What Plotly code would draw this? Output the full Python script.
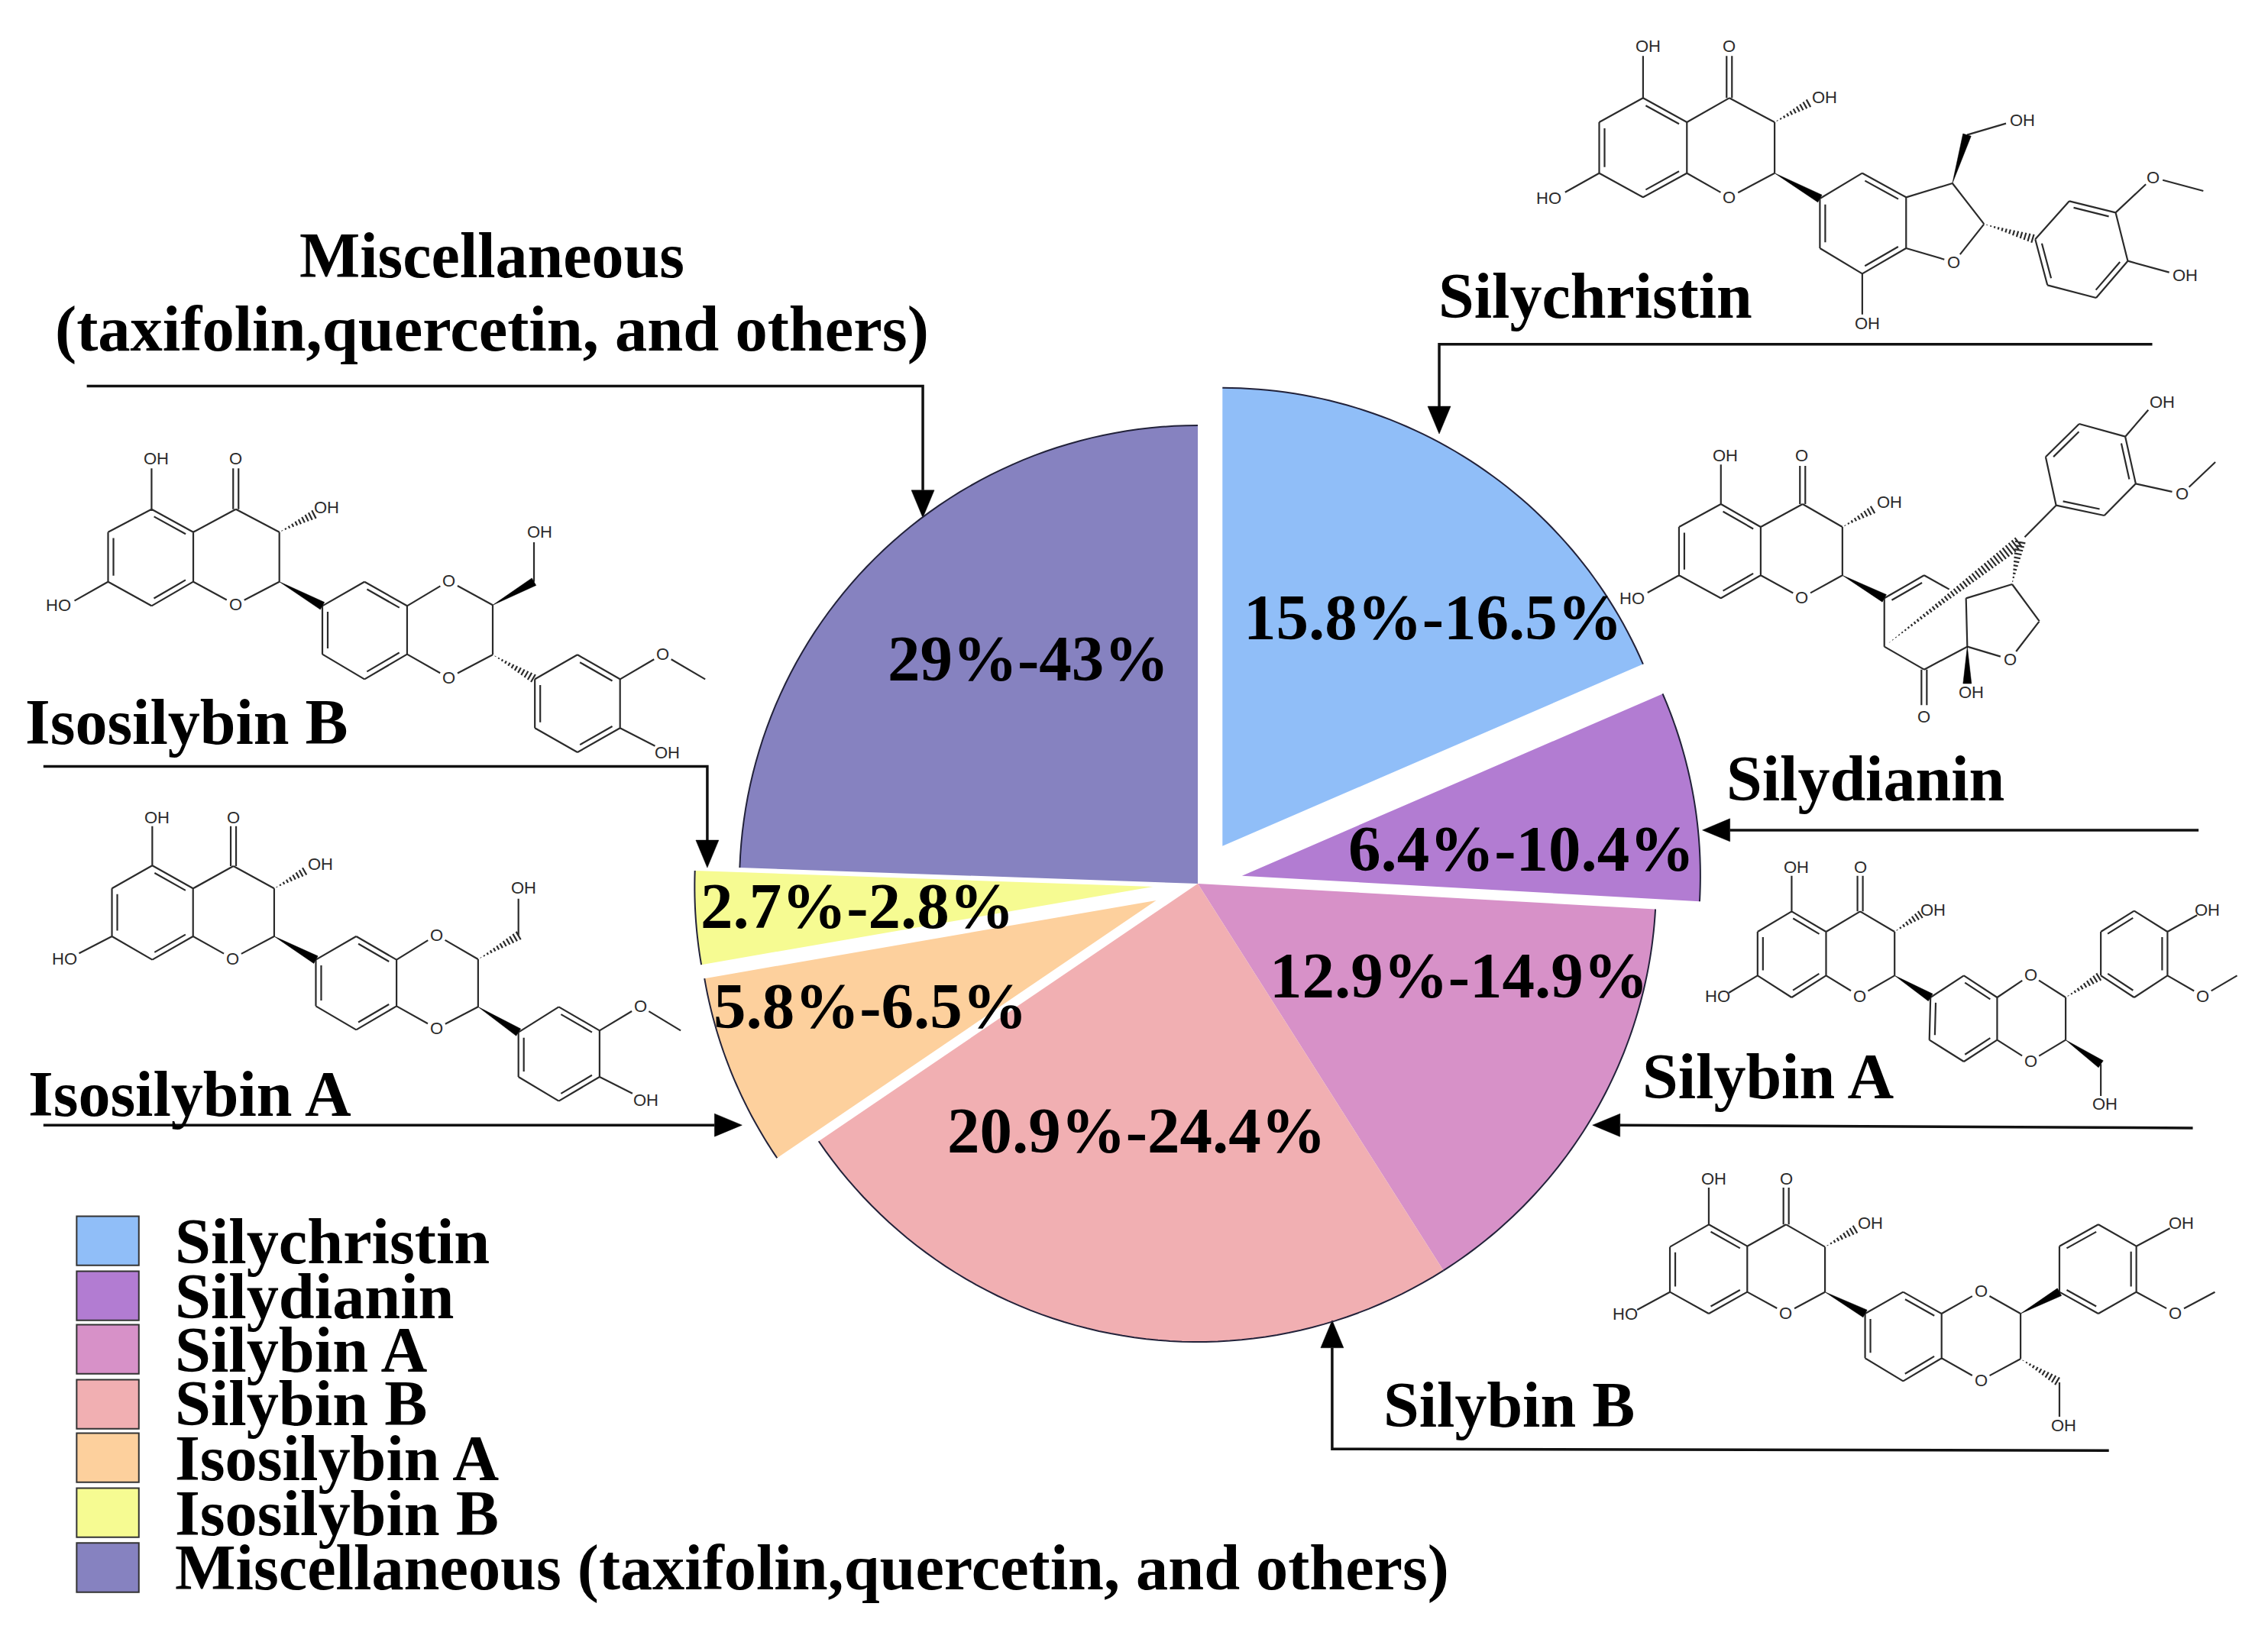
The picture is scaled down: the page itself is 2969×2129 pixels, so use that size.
import numpy as np
import plotly.graph_objects as go

W, H = 2969, 2129
categories = ["Silychristin", "Silydianin", "Silybin A", "Silybin B", "Isosilybin A", "Isosilybin B",
              "Miscellaneous (taxifolin,quercetin, and others)"]
slice_degrees = [66.6, 26.6, 54.4, 88.2, 24.4, 11.8, 88.0]
pulls = [0.098, 0.098, 0, 0, 0.098, 0.098, 0]
colors = ["#90BEF8", "#B27CD2", "#D791C8", "#F1AFB2", "#FDD09D", "#F6FB92", "#8682C0"]
range_labels = ["15.8%-16.5%", "6.4%-10.4%", "12.9%-14.9%", "20.9%-24.4%", "5.8%-6.5%", "2.7%-2.8%", "29%-43%"]

CX, CY, R = 1568, 1157, 600
FS = 84
SERIF = "Liberation Serif"
S = 2969 / 1568


def px(x):
    return x / W


def py(y):
    return 1 - y / H


def path(points, close=False):
    s = "M" + "L".join(f"{px(x):.5f},{py(y):.5f}" for x, y in points)
    return s + ("Z" if close else "")


shapes, annos = [], []


def add_text(text, x, y, size=FS, anchor="center", family=SERIF, bold=True, color="#000000"):
    annos.append(dict(text=text, x=px(x), y=py(y), xref="paper", yref="paper", showarrow=False,
                      xanchor=anchor, yanchor="middle", borderpad=0,
                      font=dict(family=family, size=size, color=color, weight="bold" if bold else "normal")))


# ---------- chemical structures ----------
BOND = "#2b2b2b"
LW = 2.2
LABELLED = {"Oc", "O1", "O2", "Om"}


def mol_draw(origin, scale, atoms, single, double, wedge, hashed, labels):
    ox, oy = origin
    sx, sy = scale
    P = {k: np.array([ox + v[0] / sx, oy + v[1] / sy]) for k, v in atoms.items()}
    lines, fills = [], []

    def trim(a, b):
        pa, pb = P[a].copy(), P[b].copy()
        u = (pb - pa) / np.linalg.norm(pb - pa)
        if a in LABELLED:
            pa = pa + u * 13
        if b in LABELLED:
            pb = pb - u * 13
        return pa, pb

    for a, b in single:
        lines.append(trim(a, b))
    for item in double:
        a, b, ring = item
        pa, pb = trim(a, b)
        u = (pb - pa) / np.linalg.norm(pb - pa)
        n = np.array([-u[1], u[0]])
        if ring is None:
            lines.append((pa + n * 3.5, pb + n * 3.5))
            lines.append((pa - n * 3.5, pb - n * 3.5))
        else:
            c = np.mean([P[k] for k in ring], axis=0)
            if np.dot(c - pa, n) < 0:
                n = -n
            lines.append((pa, pb))
            L = np.linalg.norm(pb - pa)
            lines.append((pa + n * 7 + u * L * 0.12, pb + n * 7 - u * L * 0.12))
    for a, b in wedge:
        pa, pb = P[a], P[b]
        u = (pb - pa) / np.linalg.norm(pb - pa)
        n = np.array([-u[1], u[0]])
        fills.append([pa, pb + n * 5.5, pb - n * 5.5])
    for a, b, *w in hashed:
        pa, pb = P[a], P[b]
        L = np.linalg.norm(pb - pa)
        u = (pb - pa) / L
        n = np.array([-u[1], u[0]])
        half = w[0] if w else 6
        for d in np.arange(4, L, 5.2):
            h = half * d / L
            lines.append((pa + u * d + n * h, pa + u * d - n * h))
    d = "".join(f"M{px(a[0]):.5f},{py(a[1]):.5f}L{px(b[0]):.5f},{py(b[1]):.5f}" for a, b in lines)
    shapes.append(dict(type="path", xref="paper", yref="paper", path=d, line=dict(color=BOND, width=LW)))
    for tri in fills:
        shapes.append(dict(type="path", xref="paper", yref="paper", path=path(tri, True),
                           fillcolor="#000000", line=dict(color="#000000", width=0.5)))
    for text, x, y in labels:
        add_text(text, ox + x / sx, oy + y / sy, size=22, family="Liberation Sans", bold=False, color="#2b2b2b")


A_RING = ["C5", "C4a", "C8a", "C8", "C7", "C6"]
R_RING = ["R1", "R2", "R3", "R4", "R5", "R6"]
P_RING = ["P1", "P2", "P3", "P4", "P5", "P6"]
CORE_SINGLE = [("C5", "C6"), ("C7", "C8"), ("C4a", "C8a"), ("C4a", "C4"), ("C4", "C3"), ("C3", "C2"),
               ("C2", "Oc"), ("Oc", "C8a"), ("C5", "e5"), ("C7", "e7")]
CORE_DOUBLE = [("C5", "C4a", A_RING), ("C6", "C7", A_RING), ("C8", "C8a", A_RING), ("C4", "eO", None)]
R_SINGLE = [("R1", "R2"), ("R3", "R4"), ("R5", "R6")]
R_DOUBLE = [("R2", "R3", R_RING), ("R4", "R5", R_RING), ("R1", "R6", R_RING)]
P_SINGLE = [("P1", "P2"), ("P3", "P4"), ("P5", "P6")]
P_DOUBLE = [("P2", "P3", P_RING), ("P4", "P5", P_RING), ("P6", "P1", P_RING)]
DIOX = [("R3", "O1"), ("O1", "Cc"), ("Cc", "Cd"), ("Cd", "O2"), ("O2", "R4")]

# Silychristin
mol_draw((1950, 20), (1.568, 3), dict(
    C5=(315, 325), C4a=(405, 420), C4=(492, 325), C3=(585, 420), C2=(585, 620), Oc=(492, 715), C8a=(405, 620),
    C8=(315, 715), C7=(225, 620), C6=(225, 420), e5=(315, 160), eO=(492, 160), h3=(660, 340), e7=(155, 695),
    R1=(678, 720), R2=(765, 620), R3=(855, 715), R4=(855, 915), R5=(765, 1015), R6=(678, 915),
    Cx=(950, 660), Ch=(980, 470), Ce=(1060, 425), Cy=(1015, 820), O1=(953, 970),
    P1=(1120, 880), P2=(1190, 730), P3=(1285, 775), P4=(1310, 965), P5=(1245, 1110), P6=(1145, 1060),
    Om=(1362, 637), Me=(1465, 690), e4=(1395, 1010), e8=(765, 1175)),
    CORE_SINGLE + R_SINGLE + P_SINGLE + [("R3", "Cx"), ("Ch", "Ce"), ("Cx", "Cy"), ("Cy", "O1"), ("O1", "R4"),
                                         ("P3", "Om"), ("Om", "Me"), ("P4", "e4"), ("R5", "e8")],
    CORE_DOUBLE + R_DOUBLE + P_DOUBLE,
    [("C2", "R1"), ("Cx", "Ch")],
    [("C3", "h3"), ("Cy", "P1")],
    [("OH", 325, 122), ("O", 492, 122), ("OH", 687, 322), ("HO", 122, 718), ("O", 492, 715), ("OH", 1093, 412),
     ("O", 953, 970), ("O", 1362, 637), ("OH", 1428, 1020), ("OH", 775, 1210)])

# Silydianin
mol_draw((2080, 490), (1.823, 3), dict(
    C5=(315, 510), C4a=(410, 600), C4=(510, 510), C3=(605, 600), C2=(605, 790), Oc=(508, 878), C8a=(410, 790),
    C8=(315, 880), C7=(215, 790), C6=(215, 600), e5=(315, 355), eO=(510, 360), h3=(685, 525), e7=(140, 858),
    A=(705, 880), B=(800, 790), B2=(860, 845), Cc=(705, 1070), D=(800, 1160), eD=(800, 1300), E=(903, 1070),
    eE=(903, 1215), O1=(1005, 1120), F=(1075, 970), G=(1010, 825), Hh=(900, 880), I=(1030, 655), I2=(1040, 640),
    C0=(712, 1060), P1=(1115, 515), P2=(1090, 325), P3=(1170, 195), P4=(1280, 245), P5=(1305, 430), P6=(1230, 555),
    e4=(1335, 140), Om=(1415, 470), Me=(1495, 345)),
    CORE_SINGLE + [("B", "B2"), ("A", "Cc"), ("Cc", "D"), ("D", "E"), ("E", "O1"), ("O1", "F"), ("F", "G"),
                   ("G", "Hh"), ("Hh", "E"), ("I2", "P1"), ("P1", "P2"), ("P3", "P4"), ("P5", "P6"), ("P4", "e4"),
                   ("P5", "Om"), ("Om", "Me")],
    CORE_DOUBLE + [("A", "B", ["A", "B", "Hh", "E", "D", "Cc"]), ("D", "eD", None),
                   ("P2", "P3", P_RING), ("P4", "P5", P_RING), ("P6", "P1", P_RING)],
    [("C2", "A"), ("E", "eE")],
    [("C3", "h3"), ("G", "I", 7), ("C0", "I", 8)],
    [("OH", 325, 318), ("O", 508, 318), ("OH", 718, 503), ("HO", 103, 880), ("O", 508, 878), ("OH", 913, 1250),
     ("O", 800, 1345), ("O", 1005, 1120), ("OH", 1368, 108), ("O", 1415, 470)])

# Silybin A
mol_draw((2200, 1100), (2.063, 3), dict(
    C5=(300, 280), C4a=(393, 360), C4=(485, 280), C3=(578, 360), C2=(578, 532), Oc=(483, 612), C8a=(393, 532),
    C8=(300, 618), C7=(208, 532), C6=(208, 360), e5=(300, 140), eO=(485, 140), h3=(655, 285), e7=(130, 600),
    R1=(675, 618), R2=(765, 532), R3=(855, 618), R4=(855, 785), R5=(765, 870), R6=(672, 785),
    O1=(945, 530), O2=(945, 868), Cc=(1040, 618), Cd=(1040, 785), Ch=(1135, 880), Ce=(1135, 1005),
    P1=(1135, 532), P2=(1135, 360), P3=(1225, 278), P4=(1315, 360), P5=(1315, 532), P6=(1225, 618),
    e4=(1395, 295), Om=(1410, 612), Me=(1503, 532)),
    CORE_SINGLE + R_SINGLE + P_SINGLE + DIOX + [("Ch", "Ce"), ("P4", "e4"), ("P5", "Om"), ("Om", "Me")],
    CORE_DOUBLE + R_DOUBLE + P_DOUBLE,
    [("C2", "R1"), ("Cd", "Ch")],
    [("C3", "h3"), ("Cc", "P1")],
    [("OH", 312, 105), ("O", 485, 105), ("OH", 682, 275), ("HO", 100, 612), ("O", 483, 612), ("O", 945, 530),
     ("O", 945, 868), ("OH", 1145, 1035), ("OH", 1422, 275), ("O", 1410, 612)])

# Silybin B
mol_draw((2080, 1500), (1.867, 3), dict(
    C5=(293, 310), C4a=(387, 395), C4=(482, 310), C3=(577, 398), C2=(577, 575), Oc=(481, 658), C8a=(387, 575),
    C8=(293, 660), C7=(198, 575), C6=(198, 398), e5=(293, 165), eO=(482, 165), h3=(655, 325), e7=(118, 645),
    R1=(675, 660), R2=(768, 575), R3=(862, 660), R4=(862, 835), R5=(768, 925), R6=(675, 835),
    O1=(958, 572), O2=(958, 922), Cc=(1055, 660), Cd=(1055, 838), Ch=(1150, 930), Ce=(1150, 1065),
    P1=(1150, 575), P2=(1150, 395), P3=(1245, 310), P4=(1338, 395), P5=(1338, 575), P6=(1245, 660),
    e4=(1420, 325), Om=(1433, 658), Me=(1530, 575)),
    CORE_SINGLE + R_SINGLE + P_SINGLE + DIOX + [("Ch", "Ce"), ("P4", "e4"), ("P5", "Om"), ("Om", "Me")],
    CORE_DOUBLE + R_DOUBLE + P_DOUBLE,
    [("C2", "R1"), ("Cc", "P1")],
    [("C3", "h3"), ("Cd", "Ch")],
    [("OH", 305, 130), ("O", 482, 130), ("OH", 688, 305), ("HO", 88, 660), ("O", 481, 658), ("O", 958, 572),
     ("O", 958, 922), ("OH", 1160, 1098), ("OH", 1447, 305), ("O", 1433, 658)])

# Isosilybin B
mol_draw((30, 560), (1.704, 3), dict(
    C5=(287, 320), C4a=(380, 410), C4=(475, 320), C3=(572, 410), C2=(572, 605), Oc=(474, 695), C8a=(380, 605),
    C8=(287, 700), C7=(190, 605), C6=(190, 410), e5=(287, 160), eO=(475, 160), h3=(650, 340), e7=(115, 680),
    R1=(668, 700), R2=(762, 605), R3=(857, 700), R4=(857, 890), R5=(762, 988), R6=(668, 890),
    O1=(950, 602), O2=(950, 983), Cc=(1048, 697), Cd=(1048, 892), Ch=(1140, 605), Ce=(1140, 450),
    P1=(1142, 988), P2=(1237, 892), P3=(1332, 988), P4=(1332, 1180), P5=(1237, 1275), P6=(1142, 1180),
    e4=(1410, 1250), Om=(1427, 890), Me=(1522, 988)),
    CORE_SINGLE + R_SINGLE + P_SINGLE + DIOX + [("Ch", "Ce"), ("P4", "e4"), ("P3", "Om"), ("Om", "Me")],
    CORE_DOUBLE + R_DOUBLE + P_DOUBLE,
    [("C2", "R1"), ("Cc", "Ch")],
    [("C3", "h3"), ("Cd", "P1")],
    [("OH", 297, 122), ("O", 474, 122), ("OH", 678, 315), ("HO", 80, 697), ("O", 474, 695), ("O", 950, 602),
     ("O", 950, 983), ("OH", 1152, 410), ("O", 1427, 890), ("OH", 1438, 1275)])

# Isosilybin A
mol_draw((30, 1030), (1.742, 3), dict(
    C5=(295, 310), C4a=(388, 400), C4=(480, 312), C3=(573, 400), C2=(573, 588), Oc=(478, 675), C8a=(388, 588),
    C8=(295, 680), C7=(203, 588), C6=(203, 400), e5=(295, 155), eO=(480, 155), h3=(650, 325), e7=(128, 655),
    R1=(668, 680), R2=(760, 588), R3=(852, 680), R4=(852, 862), R5=(760, 955), R6=(668, 862),
    O1=(943, 583), O2=(943, 950), Cc=(1038, 678), Cd=(1038, 865), Ch=(1130, 585), Ce=(1130, 440),
    P1=(1130, 965), P2=(1222, 865), P3=(1315, 958), P4=(1315, 1140), P5=(1222, 1235), P6=(1130, 1140),
    e4=(1390, 1205), Om=(1408, 862), Me=(1500, 958)),
    CORE_SINGLE + R_SINGLE + P_SINGLE + DIOX + [("Ch", "Ce"), ("P4", "e4"), ("P3", "Om"), ("Om", "Me")],
    CORE_DOUBLE + R_DOUBLE + P_DOUBLE,
    [("C2", "R1"), ("Cd", "P1")],
    [("C3", "h3"), ("Cc", "Ch")],
    [("OH", 306, 120), ("O", 480, 120), ("OH", 678, 305), ("HO", 95, 675), ("O", 478, 675), ("O", 943, 583),
     ("O", 943, 950), ("OH", 1142, 398), ("O", 1408, 862), ("OH", 1420, 1230)])

# ---------- callout lines and arrowheads (reference-image pixels / S) ----------
callouts = [
    [(60, 267), (638, 267), (638, 358)],
    [(1488, 238), (995, 238), (995, 300)],
    [(1520, 574), (1177, 574)],
    [(1516, 780), (1101, 778)],
    [(1458, 1003), (921, 1002), (921, 913)],
    [(30, 530), (489, 530), (489, 600)],
    [(30, 778), (513, 778)],
]
for c in callouts:
    pts = [np.array(p) * S for p in c]
    u = (pts[-1] - pts[-2]) / np.linalg.norm(pts[-1] - pts[-2])
    n = np.array([-u[1], u[0]])
    base = pts[-1] - u * 36
    shapes.append(dict(type="path", xref="paper", yref="paper", path=path(pts[:-1] + [base]),
                       line=dict(color="#111111", width=3.5)))
    shapes.append(dict(type="path", xref="paper", yref="paper", path=path([pts[-1], base + n * 15, base - n * 15], True),
                       fillcolor="#000000", line=dict(color="#000000", width=0.5)))

# ---------- arcs along the rim of each slice ----------
start = 0.0
for deg, pull in zip(slice_degrees, pulls):
    mid = np.radians(start + deg / 2)
    ox = CX + R * pull * np.sin(mid)
    oy = CY - R * pull * np.cos(mid)
    th = np.radians(np.linspace(start, start + deg, 60))
    shapes.append(dict(type="path", xref="paper", yref="paper",
                       path=path(list(zip(ox + R * np.sin(th), oy - R * np.cos(th)))),
                       line=dict(color="#22223a", width=2)))
    start += deg

# ---------- text ----------
add_text("Miscellaneous", 340 * S, 176.5 * S)
add_text("(taxifolin,quercetin, and others)", 340 * S, 227.5 * S, size=84.5)
add_text("Silychristin", 994 * S, 204.5 * S, anchor="left")
add_text("Silydianin", 1193 * S, 538.5 * S, anchor="left")
add_text("Silybin A", 1135 * S, 744.5 * S, anchor="left")
add_text("Silybin B", 956 * S, 971.5 * S, anchor="left")
add_text("Isosilybin B", 17 * S, 499.5 * S, anchor="left")
add_text("Isosilybin A", 19 * S, 756.5 * S, anchor="left")

label_pos = [(990.5, 426.5), (1051.5, 586.5), (1008.5, 674.5), (786, 781.5), (602, 695.5), (593, 626.5), (711, 455.5)]
for t, (x, y) in zip(range_labels, label_pos):
    add_text(t, x * S, y * S, size=85)

# ---------- key ----------
swatch_top = [841, 879, 916, 954, 991, 1029, 1067]
key_y = [858.5, 896.5, 933.5, 970.5, 1008.5, 1046.5, 1084.5]
for c, col, top, y in zip(categories, colors, swatch_top, key_y):
    shapes.append(dict(type="rect", xref="paper", yref="paper", x0=px(53 * S), x1=px(96 * S),
                       y0=py(top * S), y1=py((top + 34) * S), fillcolor=col, line=dict(color="#333333", width=2)))
    add_text(c, 120.5 * S, y * S, anchor="left", size=84.3)

half = R * (1 + max(pulls))
fig = go.Figure(go.Pie(
    labels=categories, values=slice_degrees, pull=pulls, sort=False, direction="clockwise", rotation=0,
    marker=dict(colors=colors, line=dict(width=0)), textinfo="none", showlegend=False,
    domain=dict(x=[(CX - half) / W, (CX + half) / W], y=[1 - (CY + half) / H, 1 - (CY - half) / H]),
))
fig.update_layout(width=W, height=H, margin=dict(l=0, r=0, t=0, b=0), paper_bgcolor="white",
                  plot_bgcolor="white", shapes=shapes, annotations=annos, showlegend=False)
fig.write_html("out.html", config=dict(displayModeBar=False),
               post_script="document.body.style.margin='0';document.documentElement.style.overflow='hidden';")
